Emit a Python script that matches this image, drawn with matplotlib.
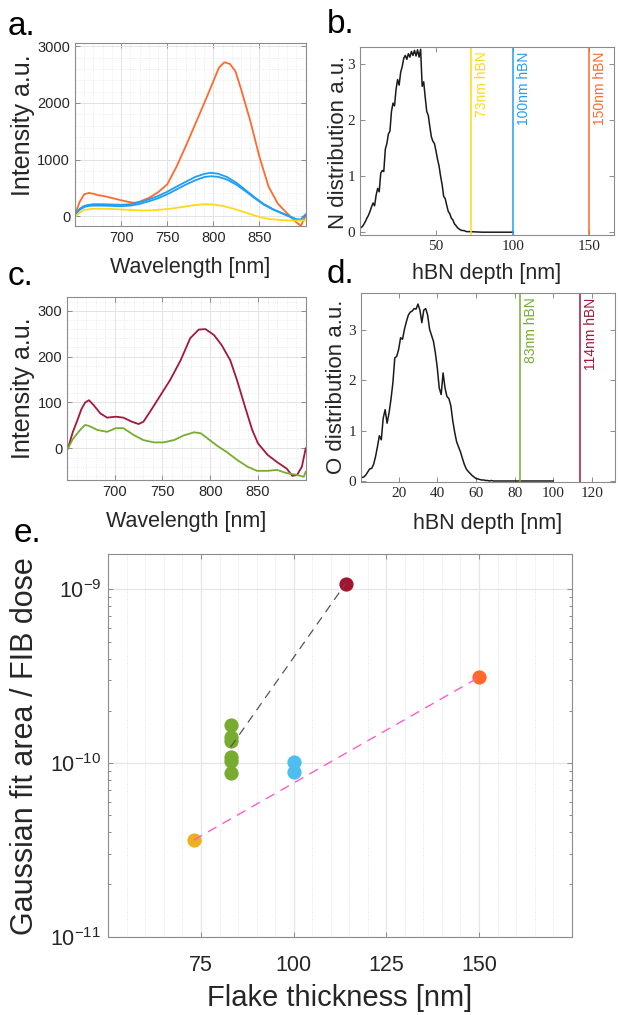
import numpy as np
import matplotlib
matplotlib.use("Agg")
import matplotlib.pyplot as plt
from matplotlib.ticker import MultipleLocator, LogLocator, NullFormatter

plt.rcParams['font.family'] = ['Liberation Sans', 'DejaVu Sans']
plt.rcParams['mathtext.fontset'] = 'custom'
plt.rcParams['mathtext.rm'] = 'Liberation Sans'
plt.rcParams['mathtext.it'] = 'Liberation Sans'
plt.rcParams['mathtext.bf'] = 'Liberation Sans'

# ---------------- data ----------------
# panel a: PL spectra (N-implanted)
wl_orange = [650, 655, 660, 665, 670, 675, 680, 690, 700, 710, 715, 720, 730, 740, 750, 760, 770,
             780, 790, 800, 806, 812, 818, 824, 830, 840, 850, 860, 870, 880, 885, 890, 895, 900]
int_orange = [20, 250, 385, 410, 395, 370, 360, 320, 280, 245, 235, 255, 320, 420, 560, 870, 1230,
              1610, 1990, 2380, 2620, 2720, 2690, 2560, 2250, 1690, 1050, 520, 220, 50, -30, -110, -170, 0]
wl_blue = [650, 655, 660, 665, 670, 680, 690, 700, 710, 720, 730, 740, 750, 760, 770, 780, 790, 797,
           805, 815, 825, 835, 845, 855, 865, 875, 885, 890, 895, 900]
int_blue1 = [30, 130, 180, 200, 210, 210, 205, 200, 210, 245, 295, 355, 430, 520, 605, 690, 745, 765,
             750, 690, 590, 460, 330, 210, 120, 50, -20, -55, -60, 30]
int_blue2 = [20, 110, 160, 180, 185, 185, 180, 175, 185, 215, 260, 315, 385, 470, 555, 630, 690, 705,
             695, 645, 555, 440, 315, 200, 115, 45, -25, -60, -65, 20]
wl_yellow = [650, 655, 660, 670, 680, 690, 700, 710, 720, 730, 740, 750, 760, 770, 780, 790, 800,
             810, 820, 830, 840, 850, 860, 870, 880, 890, 900]
int_yellow = [-10, 60, 110, 130, 130, 125, 118, 110, 100, 100, 110, 125, 145, 170, 195, 210, 205,
              180, 140, 90, 35, -15, -50, -65, -75, -80, -75]

# panel b: N depth distribution
depth_N = [1, 2, 3, 4, 5, 6, 7, 8, 9, 10, 11, 12, 13, 14, 15, 16, 17, 18, 19, 20,
           21, 22, 23, 24, 25, 26, 27, 28, 29, 30, 31, 32, 33, 34, 35, 36, 37, 38, 39, 40,
           41, 42, 43, 44, 45, 46, 47, 48, 49, 50, 51, 52, 53, 54, 55, 56, 57, 58, 59, 60,
           61, 62, 63, 64, 65, 66, 67, 68, 69, 70, 71, 72, 80, 90, 100]
dist_N = [0.08, 0.10, 0.14, 0.19, 0.25, 0.30, 0.37, 0.45, 0.52, 0.47, 0.66, 0.78, 0.72, 1.05, 1.10, 1.08,
          1.48, 1.58, 1.75, 1.80, 2.15, 2.30, 2.25, 2.55, 2.72, 2.62, 2.85, 2.95, 3.10, 3.15,
          3.08, 3.18, 3.12, 3.22, 3.15, 3.24, 3.14, 3.25, 3.12, 3.26, 2.60, 2.68, 2.40, 2.15,
          2.08, 1.88, 1.70, 1.62, 1.58, 1.45, 1.30, 1.18, 1.00, 0.85, 0.64, 0.60, 0.48, 0.37,
          0.33, 0.25, 0.22, 0.15, 0.12, 0.08, 0.06, 0.04, 0.03, 0.03, 0.02, 0.01, 0.01, 0.01,
          0.0, 0.0, 0.0]
thick_N = [73, 100, 150]
thick_N_labels = ['73nm hBN', '100nm hBN', '150nm hBN']

# panel c: PL spectra (O-implanted)
wl_red = [651, 656, 661, 665, 669, 673, 678, 685, 692, 701, 709, 718, 725, 730, 737, 748, 758, 769,
          779, 788, 795, 804, 812, 821, 828, 837, 844, 850, 860, 870, 880, 886, 891, 896, 900]
int_red = [0, 35, 62, 85, 100, 105, 94, 76, 67, 69, 67, 58, 53, 58, 80, 116, 149, 192, 240, 259,
           260, 247, 225, 192, 149, 87, 40, 11, -14, -30, -44, -60, -58, -40, 0]
wl_green = [651, 656, 661, 665, 669, 673, 682, 692, 701, 709, 720, 730, 741, 751, 762, 772, 783, 790,
            797, 807, 818, 828, 839, 849, 860, 870, 880, 891, 898, 900]
int_green = [0, 20, 33, 43, 51, 49, 40, 36, 44, 44, 29, 18, 13, 13, 18, 28, 35, 33, 22, 6, -9, -25,
             -40, -49, -49, -47, -54, -58, -62, -51]

# panel d: O depth distribution
depth_O = [1, 2, 3, 4, 5, 6, 7, 8, 9, 10, 11, 12, 13, 14, 15, 16, 17, 18, 19, 20,
           21, 22, 23, 24, 25, 26, 27, 28, 29, 30, 31, 32, 33, 34, 35, 36, 37, 38, 39, 40,
           41, 42, 43, 44, 45, 46, 47, 48, 49, 50, 51, 52, 53, 54, 55, 56, 57, 58, 59, 60,
           61, 62, 63, 64, 65, 66, 67, 68, 69, 80, 90, 100]
dist_O = [0.07, 0.08, 0.12, 0.18, 0.24, 0.25, 0.33, 0.48, 0.68, 0.90, 0.82, 1.25, 1.42, 1.15, 1.35,
          1.62, 1.95, 2.45, 2.48, 2.62, 2.85, 2.82, 3.02, 3.17, 3.30, 3.36, 3.38, 3.43, 3.42, 3.52,
          3.40, 3.15, 3.40, 3.43, 3.30, 3.02, 2.90, 2.78, 2.55, 2.25, 1.85, 1.72, 2.15, 1.85, 1.68,
          1.64, 1.50, 1.20, 0.97, 0.78, 0.68, 0.58, 0.45, 0.33, 0.24, 0.19, 0.15, 0.11, 0.08, 0.05,
          0.04, 0.03, 0.02, 0.02, 0.01, 0.01, 0.00, 0.01, 0.00, 0.0, 0.0, 0.0]
thick_O = [83, 114]
thick_O_labels = ['83nm hBN', '114nm hBN']

# panel e: Gaussian fit area / FIB dose
e_thick_yellow = [73]
e_val_yellow = [3.6e-11]
e_thick_green = [83, 83, 83, 83, 83, 83]
e_val_green = [1.66e-10, 1.42e-10, 1.34e-10, 1.09e-10, 1.03e-10, 8.8e-11]
e_thick_blue = [100, 100]
e_val_blue = [1.01e-10, 8.9e-11]
e_thick_red = [114]
e_val_red = [1.08e-9]
e_thick_orange = [150]
e_val_orange = [3.12e-10]

# colors
C_ORANGE = '#FF6A2B'
C_BLUE = '#1E9FF2'
C_YELLOW = '#FFD91A'
C_RED = '#A3173A'
C_GREEN = '#77AC30'
AX_COLOR = '#8c8c8c'
TXT = '#262626'

W, H = 618, 1015
fig = plt.figure(figsize=(W / 100, H / 100), dpi=100)


def add_ax(l, t, r, b):
    return fig.add_axes([l / W, 1 - b / H, (r - l) / W, (b - t) / H])


def style_box(ax, labelsize, family):
    for s in ax.spines.values():
        s.set_color(AX_COLOR)
        s.set_linewidth(0.8)
    ax.tick_params(which='both', direction='in', top=True, right=True, color=AX_COLOR,
                   labelsize=labelsize, labelcolor=TXT, width=0.7)
    ax.tick_params(which='major', length=3.5)
    ax.tick_params(which='minor', length=0)
    for lab in ax.get_xticklabels() + ax.get_yticklabels():
        lab.set_family(family)


def ftext(x, y, s, **kw):
    fig.text(x / W, 1 - y / H, s, **kw)


# ---------------- panel a ----------------
axa = add_ax(75, 43, 305.5, 226)
axa.plot(wl_orange, int_orange, color=C_ORANGE, lw=1.3)
axa.plot(wl_blue, int_blue1, color=C_BLUE, lw=1.3)
axa.plot(wl_blue, int_blue2, color=C_BLUE, lw=1.3)
axa.plot(wl_yellow, int_yellow, color=C_YELLOW, lw=1.3)
axa.set_xlim(650, 900)
axa.set_ylim(-175, 3060)
axa.set_xticks([700, 750, 800, 850])
axa.set_yticks([0, 1000, 2000, 3000])
axa.xaxis.set_minor_locator(MultipleLocator(10))
axa.yaxis.set_minor_locator(MultipleLocator(200))
axa.grid(which='major', color='#e3e3e3', lw=0.7)
axa.grid(which='minor', color='#e6e6e6', lw=0.6, ls=':')
axa.set_axisbelow(True)
style_box(axa, 10.5, ['Liberation Sans'])

# ---------------- panel b ----------------
axb = add_ax(360, 47, 614, 235)
axb.plot(depth_N, dist_N, color='#1a1a1a', lw=1.1)
for xv, lab, col in zip(thick_N, thick_N_labels, [C_YELLOW, C_BLUE, C_ORANGE]):
    axb.axvline(xv, color=col, lw=1.1)
    axb.text(xv + 2.5, 3.22, lab, rotation=90, color=col, fontsize=10, va='top', ha='left')
axb.set_xlim(0.5, 166)
axb.set_ylim(-0.05, 3.3)
axb.set_xticks([50, 100, 150])
axb.set_yticks([0, 1, 2, 3])
style_box(axb, 11, ['Liberation Serif'])

# ---------------- panel c ----------------
axc = add_ax(67, 297, 305.7, 480)
axc.plot(wl_red, int_red, color=C_RED, lw=1.3)
axc.plot(wl_green, int_green, color=C_GREEN, lw=1.3)
axc.set_xlim(650, 900)
axc.set_ylim(-69, 330)
axc.set_xticks([700, 750, 800, 850])
axc.set_yticks([0, 100, 200, 300])
axc.xaxis.set_minor_locator(MultipleLocator(10))
axc.yaxis.set_minor_locator(MultipleLocator(20))
axc.grid(which='major', color='#e3e3e3', lw=0.7)
axc.grid(which='minor', color='#e6e6e6', lw=0.6, ls=':')
axc.set_axisbelow(True)
style_box(axc, 10.5, ['Liberation Sans'])

# ---------------- panel d ----------------
axd = add_ax(361, 293, 615, 482)
axd.plot(depth_O, dist_O, color='#1a1a1a', lw=1.1)
for xv, lab, col in zip(thick_O, thick_O_labels, [C_GREEN, C_RED]):
    axd.axvline(xv, color=col, lw=1.1)
    axd.text(xv + 2.0, 3.65, lab, rotation=90, color=col, fontsize=10, va='top', ha='left')
axd.set_xlim(0.5, 132)
axd.set_ylim(-0.02, 3.74)
axd.set_xticks([20, 40, 60, 80, 100, 120])
axd.set_yticks([0, 1, 2, 3])
style_box(axd, 11, ['Liberation Serif'])

# ---------------- panel e ----------------
axe = add_ax(108.3, 554, 571.7, 936.7)
axe.set_yscale('log')
ms = 105
axe.scatter(e_thick_yellow, e_val_yellow, s=ms, color='#EDB120', zorder=3, linewidths=0)
axe.scatter(e_thick_green, e_val_green, s=ms, color=C_GREEN, zorder=3, linewidths=0)
axe.scatter(e_thick_blue, e_val_blue, s=ms, color='#4DBEEE', zorder=3, linewidths=0)
axe.scatter(e_thick_red, e_val_red, s=ms, color='#A2142F', zorder=3, linewidths=0)
axe.scatter(e_thick_orange, e_val_orange, s=ms, color='#FF6929', zorder=3, linewidths=0)
axe.plot([e_thick_green[0], e_thick_red[0]], [np.mean(e_val_green), e_val_red[0]],
         ls=(0, (7, 5)), color='#555555', lw=0.9, zorder=4)
axe.plot([e_thick_yellow[0], e_thick_orange[0]], [e_val_yellow[0], e_val_orange[0]],
         ls=(0, (7, 5)), color='#FF5CCB', lw=1.0, zorder=4)
axe.set_xlim(50, 175)
axe.set_ylim(1e-11, 1.6e-9)
axe.set_xticks([75, 100, 125, 150])
axe.xaxis.set_minor_locator(MultipleLocator(5))
axe.set_yticks([1e-11, 1e-10, 1e-9])
axe.set_yticklabels([r'$10^{-11}$', r'$10^{-10}$', r'$10^{-9}$'])
axe.yaxis.set_minor_locator(LogLocator(base=10, subs=np.arange(2, 10)))
axe.yaxis.set_minor_formatter(NullFormatter())
axe.grid(which='major', color='#e6e6e6', lw=0.9)
axe.grid(which='minor', axis='x', color='#dddddd', lw=0.6, ls=':')
axe.set_axisbelow(True)
style_box(axe, 15.5, ['Liberation Sans'])
axe.tick_params(which='minor', axis='y', length=2.5)
axe.tick_params(axis='y', which='both', pad=5)
axe.tick_params(axis='x', which='both', pad=13)

# ---------------- labels ----------------
ftext(190, 273, 'Wavelength [nm]', fontsize=15.5, ha='center', va='baseline', color=TXT)
ftext(186, 527, 'Wavelength [nm]', fontsize=15.5, ha='center', va='baseline', color=TXT)
ftext(487, 279, 'hBN depth [nm]', fontsize=15.5, ha='center', va='baseline', color=TXT)
ftext(488, 529, 'hBN depth [nm]', fontsize=15.5, ha='center', va='baseline', color=TXT)
ftext(23, 125, 'Intensity a.u.', fontsize=18, ha='center', va='center', rotation=90, color=TXT)
ftext(23, 388, 'Intensity a.u.', fontsize=18, ha='center', va='center', rotation=90, color=TXT)
ftext(338, 142, 'N distribution a.u.', fontsize=16, ha='center', va='center', rotation=90, color=TXT)
ftext(337, 387, 'O distribution a.u.', fontsize=16, ha='center', va='center', rotation=90, color=TXT)
ftext(340, 1006, 'Flake thickness [nm]', fontsize=21, ha='center', va='baseline', color=TXT)
ftext(25, 746, 'Gaussian fit area / FIB dose', fontsize=22, ha='center', va='center', rotation=90, color=TXT)

for s, x, y in [('a.', 8, 35), ('b.', 327, 33), ('c.', 8, 285), ('d.', 327, 283), ('e.', 14, 542)]:
    ftext(x, y, s, fontsize=24, ha='left', va='baseline', color='black')

fig.savefig('out.png', dpi=100)
